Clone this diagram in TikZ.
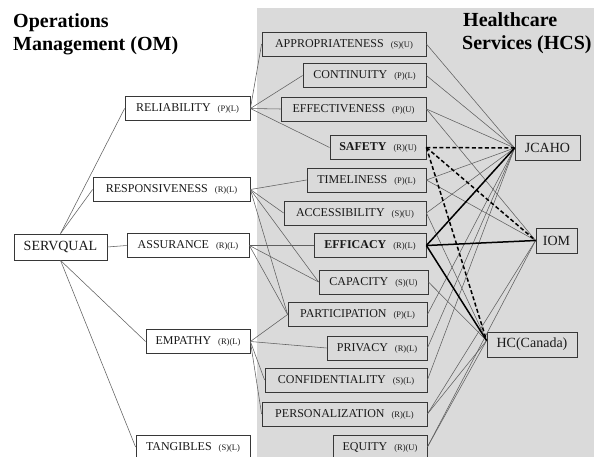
\documentclass[tikz,border=0pt]{standalone}
\usepackage{fontspec}
\setmainfont{Liberation Serif}
\definecolor{bg}{RGB}{218,218,218}
\definecolor{ln}{RGB}{95,95,95}
\definecolor{bx}{RGB}{55,55,55}
\definecolor{tx}{RGB}{25,25,25}
\newcommand{\tg}[1]{\hspace{7pt}{\fontsize{8.5}{10}\selectfont #1}}
\begin{document}
\begin{tikzpicture}[x=1pt,y=-1pt,
  box/.style={draw=bx, line width=0.8pt, minimum height=24pt, inner sep=0pt, text=tx, font=\fontsize{12}{14}\selectfont},
  lbox/.style={box, fill=white},
  big/.style={draw=bx, line width=0.8pt, minimum height=25pt, inner sep=0pt, text=tx, font=\fontsize{14}{16}\selectfont},
  conn/.style={draw=ln, line width=0.55pt},
  bold/.style={draw=black, line width=1.5pt},
  bdash/.style={draw=black, line width=1.5pt, dash pattern=on 4pt off 2.5pt},
  ttl/.style={font=\fontsize{20}{23}\selectfont\bfseries, text=black, inner sep=0pt, anchor=base west}
]
\useasboundingbox (0,0) rectangle (594,457);
\fill[bg] (257,8) rectangle (600,470);

% titles
\node[ttl] (t1) at (13,28) {Operations};
\node[ttl] (t2) at (13,51) {Management (OM)};
\node[ttl] (t3) at (463,27) {Healthcare};
\node[ttl] (t4) at (462,50) {Services (HCS)};

% left column
\node[big, fill=white, minimum width=93pt, minimum height=26pt] (sq) at (60.5,247) {SERVQUAL};
\node[lbox, minimum width=125pt] (rel) at (187.5,108.5) {RELIABILITY\tg{(P)(L)}};
\node[lbox, minimum width=157pt] (res) at (171.5,189.5) {RESPONSIVENESS\tg{(R)(L)}};
\node[lbox, minimum width=122pt] (ass) at (188,245.5) {ASSURANCE\tg{(R)(L)}};
\node[lbox, minimum width=104pt] (emp) at (198,341.5) {EMPATHY\tg{(R)(L)}};
\node[lbox, minimum width=114pt] (tan) at (193,447) {TANGIBLES\tg{(S)(L)}};

% HCS dimensions
\node[box, minimum width=164pt] (app) at (344,44) {APPROPRIATENESS\tg{(S)(U)}};
\node[box, minimum width=123pt] (con) at (364.5,75.5) {CONTINUITY\tg{(P)(L)}};
\node[box, minimum width=145pt] (eff) at (353.5,109) {EFFECTIVENESS\tg{(P)(U)}};
\node[box, minimum width=96pt] (saf) at (378,147.5) {\textbf{SAFETY}\tg{(R)(U)}};
\node[box, minimum width=119pt] (tim) at (366.5,180) {TIMELINESS\tg{(P)(L)}};
\node[box, minimum width=142pt] (acc) at (355,213) {ACCESSIBILITY\tg{(S)(U)}};
\node[box, minimum width=112pt] (efc) at (370,245.5) {\textbf{EFFICACY}\tg{(R)(L)}};
\node[box, minimum width=109pt] (cap) at (373.5,282) {CAPACITY\tg{(S)(U)}};
\node[box, minimum width=139pt] (par) at (357.5,314.5) {PARTICIPATION\tg{(P)(L)}};
\node[box, minimum width=100pt] (pri) at (377,348) {PRIVACY\tg{(R)(L)}};
\node[box, minimum width=162pt] (cfd) at (346,380) {CONFIDENTIALITY\tg{(S)(L)}};
\node[box, minimum width=165pt] (per) at (344.5,414) {PERSONALIZATION\tg{(R)(L)}};
\node[box, minimum width=94pt] (equ) at (380,447) {EQUITY\tg{(R)(U)}};

% organisations
\node[big, minimum width=65pt] (jc) at (547.5,148) {JCAHO};
\node[big, minimum width=41pt] (iom) at (556.5,240.5) {IOM};
\node[big, minimum width=90pt] (hc) at (532,344.5) {HC(Canada)};
\coordinate (hcp) at ([yshift=4pt]hc.west);

% SERVQUAL to OM dimensions
\draw[conn] (sq.north) -- (rel.west);
\draw[conn] (sq.north) -- (res.west);
\draw[conn] (sq.east) -- (ass.west);
\draw[conn] (sq.south) -- (emp.west);
\draw[conn] (sq.south) -- (tan.west);

% OM to HCS
\draw[conn] (rel.east) -- (app.west);
\draw[conn] (rel.east) -- (con.west);
\draw[conn] (rel.east) -- (eff.west);
\draw[conn] (rel.east) -- (saf.west);
\draw[conn] (res.east) -- (tim.west);
\draw[conn] (res.east) -- (acc.west);
\draw[conn] (res.east) -- (cap.west);
\draw[conn] (res.east) -- (par.west);
\draw[conn] (ass.east) -- (efc.west);
\draw[conn] (ass.east) -- (cap.west);
\draw[conn] (ass.east) -- (par.west);
\draw[conn] (emp.east) -- (par.west);
\draw[conn] (emp.east) -- (pri.west);
\draw[conn] (emp.east) -- (cfd.west);
\draw[conn] (emp.east) -- (per.west);

% HCS to organisations
\draw[conn] (app.east) -- (jc.west);
\draw[conn] (con.east) -- (jc.west);
\draw[conn] (eff.east) -- (jc.west);
\draw[conn] (eff.east) -- (iom.west);
\draw[conn] (tim.east) -- (jc.west);
\draw[conn] (tim.east) -- (iom.west);
\draw[conn] (acc.east) -- (jc.west);
\draw[conn] (acc.east) -- (hcp);
\draw[conn] (cap.east) -- (hcp);
\draw[conn] (par.east) -- (jc.west);
\draw[conn] (pri.east) -- (jc.west);
\draw[conn] (cfd.east) -- (jc.west);
\draw[conn] (per.east) -- (iom.west);
\draw[conn] (per.east) -- (hcp);
\draw[conn] (equ.east) -- (iom.west);
\draw[conn] (equ.east) -- (hcp);

\draw[bdash] (saf.east) -- (jc.west);
\draw[bdash] (saf.east) -- (iom.west);
\draw[bdash] (saf.east) -- (hcp);
\draw[bold] (efc.east) -- (jc.west);
\draw[bold] (efc.east) -- (iom.west);
\draw[bold] (efc.east) -- (hcp);
\end{tikzpicture}
\end{document}
